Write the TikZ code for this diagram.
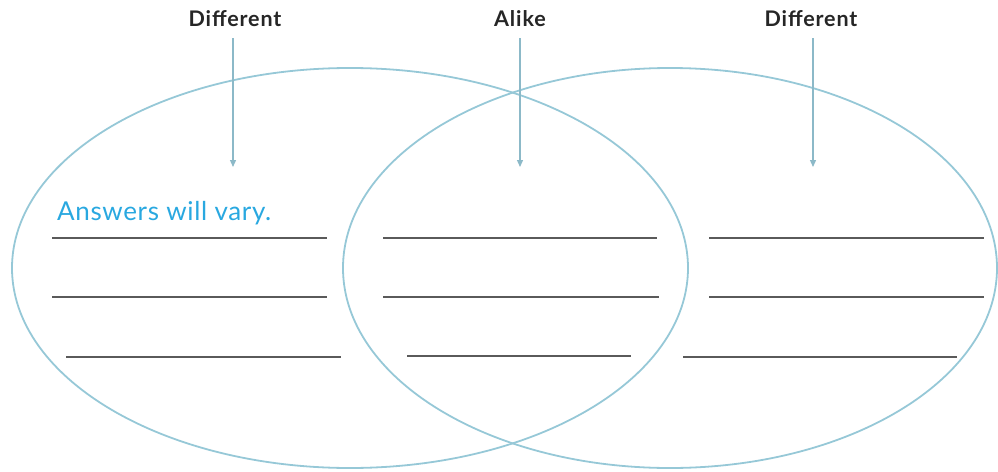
\documentclass[tikz,border=0pt]{standalone}
\usepackage{fontspec}
\setmainfont{Lato}
\usetikzlibrary{arrows.meta}
\definecolor{ellc}{RGB}{150,200,215}
\definecolor{arrc}{RGB}{140,185,200}
\definecolor{ansc}{RGB}{41,168,224}
\definecolor{linec}{RGB}{90,90,90}
\tikzset{
  venn/.style={draw=ellc, line width=1.8pt},
  pointer/.style={draw=arrc, line width=1.3pt, -{Triangle[length=7pt,width=6pt]}},
  head/.style={font=\fontsize{21.5}{24}\selectfont\bfseries\addfontfeature{LetterSpace=4}, text=black!85, inner sep=0pt},
  blank/.style={draw=linec, line width=2.6pt},
}
\begin{document}
\begin{tikzpicture}[x=1pt,y=-1pt]
\useasboundingbox (0,0) rectangle (998,471);
\draw[venn] (350,268) ellipse [x radius=338, y radius=200];
\draw[venn] (670,268) ellipse [x radius=327, y radius=200];
\node[head] (d1) at (235,19) {Different};
\node[head] (al) at (520,19) {Alike};
\node[head] (d2) at (811,19) {Different};
\coordinate (t1) at (233,167);
\coordinate (t2) at (520,167);
\coordinate (t3) at (813,167);
\draw[pointer] (233,38) -- (t1);
\draw[pointer] (520,38) -- (t2);
\draw[pointer] (813,38) -- (t3);
\node[anchor=base west, inner sep=0pt, text=ansc, font=\fontsize{26}{29}\selectfont\addfontfeature{LetterSpace=2.5}] (ans) at (57,220) {Answers will vary.};
\coordinate (a1) at (52,238); \coordinate (b1) at (327,238);
\coordinate (a2) at (52,297); \coordinate (b2) at (327,297);
\coordinate (a3) at (66,357); \coordinate (b3) at (341,357);
\coordinate (c1) at (383,238); \coordinate (e1) at (657,238);
\coordinate (c2) at (383,297); \coordinate (e2) at (659,297);
\coordinate (c3) at (407,356); \coordinate (e3) at (631,356);
\coordinate (f1) at (709,238); \coordinate (g1) at (984,238);
\coordinate (f2) at (709,297); \coordinate (g2) at (984,297);
\coordinate (f3) at (683,357); \coordinate (g3) at (957,357);
\draw[blank] (a1) -- (b1);
\draw[blank] (a2) -- (b2);
\draw[blank] (a3) -- (b3);
\draw[blank] (c1) -- (e1);
\draw[blank] (c2) -- (e2);
\draw[blank] (c3) -- (e3);
\draw[blank] (f1) -- (g1);
\draw[blank] (f2) -- (g2);
\draw[blank] (f3) -- (g3);
\end{tikzpicture}
\end{document}
